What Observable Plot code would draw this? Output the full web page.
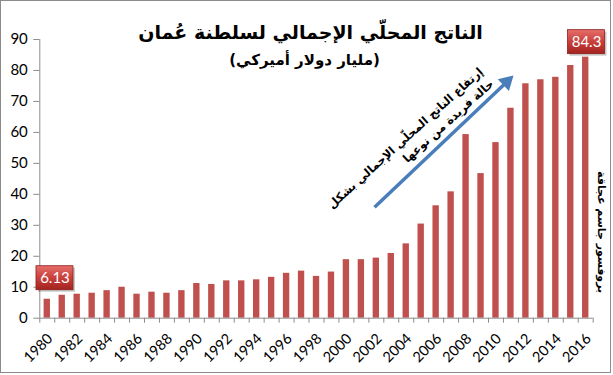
<!DOCTYPE html>
<html><head><meta charset="utf-8">
<script src="https://cdn.jsdelivr.net/npm/d3@7"></script>
<script src="https://cdn.jsdelivr.net/npm/@observablehq/plot@0.6"></script>
<style>body{margin:0;background:#fff} #chart{width:613px;height:375px}</style>
</head><body><div id="chart"></div>
<script>
const years = [1980,1981,1982,1983,1984,1985,1986,1987,1988,1989,1990,1991,1992,1993,1994,1995,1996,1997,1998,1999,2000,2001,2002,2003,2004,2005,2006,2007,2008,2009,2010,2011,2012,2013,2014,2015,2016];
const gdp = [6.13,7.4,7.75,8.07,8.9,10.0,7.75,8.4,8.07,8.9,11.2,10.9,12.06,12.06,12.4,13.2,14.5,15.2,13.5,14.9,18.9,18.9,19.4,20.9,24.0,30.4,36.3,40.8,59.3,46.7,56.7,67.8,75.7,77.0,77.8,81.6,84.3];
const yTicks = [0,10,20,30,40,50,60,70,80,90];
const labelYears = [1980,1982,1984,1986,1988,1990,1992,1994,1996,1998,2000,2002,2004,2006,2008,2010,2012,2014,2016];
const title = "الناتج المحلّي الإجمالي لسلطنة عُمان";
const subtitle = "(مليار دولار أميركي)";
const noteLines = ["إرتفاع الناتج المحلّي الإجمالي بشكل", "حالة فريدة من نوعها"];
const author = "بروفسور جاسم عجاقة";
const trendArrow = [{x1: 2002.38, y1: 35.8, x2: 2011.22, y2: 76.3}];
const trendNote = [{x: 2009.8, y: 78.5, text: noteLines.join("\n")}];
const authorNote = [{x: 2017.55, y: 27.8, text: author}];

const data = years.map((year, i) => ({year, value: gdp[i]}));
const firstPt = data[0], lastPt = data[data.length - 1];
const arabic = "'DejaVu Sans', sans-serif";
const latin = "Lato, 'Open Sans', sans-serif";
const grey = "#8c8c8c";

function valueLabel(d, dx, dy) {
  const box = {x1: q => q.year + 0.5, x2: q => q.year + 0.5, y1: "value", y2: "value",
    insetLeft: -18.5, insetRight: -18.5, insetTop: -12, insetBottom: -12};
  return [
    Plot.rect([d], {...box, dx: dx + 2, dy: dy + 2, fill: "#000", fillOpacity: 0.22}),
    Plot.rect([d], {...box, dx, dy, fill: "url(#lblGrad)", stroke: "#8e1f1c", strokeWidth: 0.8}),
    Plot.text([d], {x: q => q.year + 0.5, y: "value", text: q => String(q.value), dx, dy,
      fill: "white", fontSize: 15, fontFamily: latin})
  ];
}

const plot = Plot.plot({
  width: 613, height: 375,
  marginLeft: 39.3, marginRight: 20.3, marginTop: 39, marginBottom: 57.3,
  style: {fontFamily: latin, background: "white", overflow: "visible"},
  x: {type: "linear", domain: [years[0], years[years.length - 1] + 1]},
  y: {domain: [0, 90]},
  marks: [
    Plot.axisY({ticks: yTicks, tickSize: 6, tickPadding: 6, fontSize: 15, fontFamily: latin,
      stroke: grey, fill: "#000", label: null}),
    Plot.axisX({ticks: years.concat(years[years.length - 1] + 1), tickSize: 5,
      tickFormat: () => "", stroke: grey, label: null}),
    Plot.ruleX([years[0]], {stroke: grey}),
    Plot.rectY(data, {x1: "year", x2: d => d.year + 1, y: "value",
      insetLeft: 4.3, insetRight: 4.3, fill: "#c0504d"}),
    Plot.ruleY([0], {stroke: grey}),
    Plot.text(labelYears, {x: d => d + 0.5, y: 0, text: d => String(d), rotate: -45,
      textAnchor: "end", dx: 3, dy: 18, fontSize: 14.5, fontFamily: latin, fill: "#000"}),
    Plot.text([title], {text: d => d, frameAnchor: "top", dx: -6, dy: -14,
      fontSize: 19, fontWeight: "bold", fontFamily: arabic, fill: "#000"}),
    Plot.text([subtitle], {text: d => d, frameAnchor: "top", dx: -12, dy: 15,
      fontSize: 15, fontWeight: "bold", fontFamily: arabic, fill: "#000"}),
    Plot.link(trendArrow, {x1: "x1", y1: "y1", x2: "x2", y2: "y2",
      stroke: "#4a7ebb", strokeWidth: 3.5}),
    Plot.dot(trendArrow, {x: "x2", y: "y2", symbol: "triangle", r: 6, rotate: 46.5,
      fill: "#4a7ebb", stroke: "none"}),
    Plot.text(trendNote, {x: "x", y: "y", text: "text", rotate: -42, textAnchor: "end",
      lineHeight: 1.4, fontSize: 11.5, fontWeight: "bold", fontFamily: arabic, fill: "#000"}),
    Plot.text(authorNote, {x: "x", y: "y", text: "text", rotate: 90,
      fontSize: 11, fontWeight: "bold", fontFamily: arabic, fill: "#000"}),
    ...valueLabel(firstPt, 7.7, -21),
    ...valueLabel(lastPt, 0.8, -15)
  ]
});

const svg = d3.select(plot);
svg.insert("defs", ":first-child").html(
  '<linearGradient id="lblGrad" x1="0" y1="0" x2="0" y2="1">' +
  '<stop offset="0" stop-color="#e56e6a"/><stop offset="0.5" stop-color="#c9403c"/>' +
  '<stop offset="1" stop-color="#a3231f"/></linearGradient>');
svg.append("rect").attr("x", 0.5).attr("y", 0.5).attr("width", 610).attr("height", 372)
  .attr("fill", "none").attr("stroke", grey);
document.getElementById("chart").appendChild(plot);
</script>
</body></html>
